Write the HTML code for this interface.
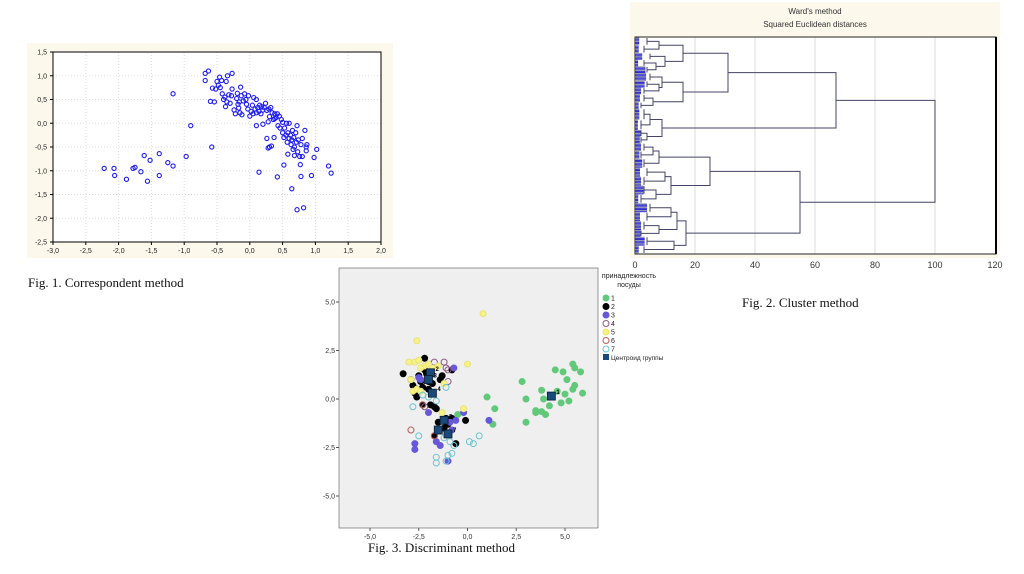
<!DOCTYPE html>
<html><head><meta charset="utf-8"><style>
body{margin:0;background:#fff;width:1024px;height:574px;overflow:hidden;position:relative;font-family:"Liberation Sans",sans-serif}
.cap{position:absolute;font-family:"Liberation Serif",serif;font-size:13px;color:#111;white-space:nowrap}
svg{position:absolute;left:0;top:0}
</style></head><body>
<svg id="s" width="1024" height="574"></svg>
<div class="cap" style="left:28px;top:275px">Fig. 1. Correspondent method</div>
<div class="cap" style="left:742px;top:295px">Fig. 2. Cluster method</div>
<div class="cap" style="left:368px;top:540px">Fig. 3. Discriminant method</div>
<script>
// ---------- Fig 1 data ----------
const c1x=[-2.22,-2.07,-2.06,-1.88,-1.78,-1.75,-1.66,-1.61,-1.56,-1.52,-1.38,-1.38,-1.25,-1.17,-1.17,-0.97,-0.9,-0.58,
-0.68,-0.68,-0.63,-0.6,-0.57,-0.54,-0.52,-0.5,-0.48,-0.46,-0.45,-0.43,-0.42,-0.4,-0.38,-0.37,-0.36,-0.35,-0.34,-0.32,-0.3,-0.28,-0.27,-0.27,-0.24,-0.22,-0.2,-0.19,-0.18,-0.17,-0.16,-0.15,-0.14,-0.13,-0.12,-0.1,-0.08,-0.06,-0.05,-0.03,-0.02,0,0.02,0.04,0.05,0.06,0.08,0.1,0.1,0.12,0.14,0.15,0.17,0.18,0.2,0.22,0.24,0.26,0.28,0.29,0.3,0.32,0.34,0.36,0.38,0.38,0.4,0.42,0.43,0.45,0.46,0.48,0.5,0.5,0.52,0.53,0.55,0.56,0.57,0.58,0.6,0.6,0.62,0.63,0.64,0.65,0.66,0.67,0.68,0.7,0.71,0.72,0.73,0.74,0.76,0.78,0.8,0.84,0.86,0.86,0.87,
0.1,0.14,0.2,0.26,0.28,0.3,0.33,0.37,0.42,0.52,0.58,0.64,0.68,0.72,0.77,0.78,0.8,0.82,0.94,0.98,1.02,1.2,1.24];
const c1y=[-0.95,-0.95,-1.1,-1.18,-0.95,-0.93,-1.02,-0.68,-1.22,-0.78,-0.64,-1.1,-0.83,-0.9,0.62,-0.7,-0.05,-0.5,
1.05,0.9,1.1,0.46,0.74,0.45,0.72,0.88,0.8,0.97,0.75,0.9,0.62,0.5,0.55,0.35,0.88,0.45,1.0,0.6,0.42,0.58,1.05,0.72,0.28,0.2,0.52,0.63,0.4,0.32,0.45,0.22,0.76,0.58,0.18,0.47,0.62,0.5,0.4,0.3,0.58,0.15,0.25,0.38,0.2,0.54,0.3,0.5,0.22,0.33,0.25,0.38,0.2,0.35,0.28,0.33,0.42,0.27,0.03,0.3,0.14,0.33,0.22,0.08,0.1,0.2,0.12,0.2,-0.05,0.15,-0.1,0.08,-0.2,0.02,-0.3,-0.1,-0.25,0,-0.4,-0.2,-0.32,0,-0.25,-0.45,-0.35,-0.15,-0.55,-0.3,-0.5,-0.2,-0.4,-0.05,-0.6,-0.35,-0.7,-0.45,-0.32,-0.15,-0.5,-0.58,-0.45,
-0.05,-1.03,-0.02,-0.32,-0.52,-0.5,-0.48,-0.3,-1.13,-0.88,-0.65,-1.38,-0.68,-1.82,-0.87,-1.12,-0.7,-1.78,-1.1,-0.72,-0.55,-0.9,-1.05];
const c1xt=["-3,0","-2,5","-2,0","-1,5","-1,0","-0,5","0,0","0,5","1,0","1,5","2,0"];
const c1yt=["1,5","1,0","0,5","0,0","-0,5","-1,0","-1,5","-2,0","-2,5"];
// ---------- Fig 2 data (tree: [height, left, right], leaf group {n,h}) ----------
function g(n,h){return {n:n,h:h};}
const tree=[100,
 [67,
  [31,[16,[8,g(7,4),g(7,3)],[10,g(6,5),[7,g(6,3),g(6,4)]]],
      [16,[9,g(7,5),[8,g(6,4),g(6,3)]],[6,g(7,3),g(6,2)]]],
  [9,[5,g(10,3),g(9,2)],[4,g(6,2),g(6,2)]]],
 [55,
  [25,[8,[6,g(7,3),g(7,2)],g(8,3)],[12,[10,g(8,4),g(8,3)],[7,g(8,3),g(8,2)]]],
  [17,[14,[12,g(8,5),g(8,4)],[8,g(8,3),g(6,2)]],[13,g(8,4),g(7,3)]]]];
const c2xt=[0,20,40,60,80,100,120];
// ---------- Fig 3 data ----------
const grpX=[
[1.0,1.4,1.3,-0.5,2.8,3.0,3.0,3.5,3.5,3.8,3.8,3.9,4.0,4.2,4.5,4.6,4.8,4.9,5.0,5.1,5.2,5.4,5.4,5.5,5.5,5.8,5.9],
[-3.3,-2.9,-2.8,-2.7,-2.6,-2.5,-2.4,-2.3,-2.2,-2.2,-2.1,-2.0,-1.9,-1.8,-1.7,-1.6,-1.4,-1.3,-1.2,-1.1,-0.8,-0.8,-0.6,-0.1,-1.7,-2.6,-2.0,-1.5,-1.0,-2.3],
[-2.7,-2.7,-2.4,-2.0,-1.6,-1.4,-0.7,-0.9,-0.6,-0.2,1.1,-1.0,-0.8,-2.5],
[-1.2,-1.1,-1.0,-1.0,-1.7,-2.2],
[0.8,-2.6,-3.0,-2.7,-2.5,-2.9,-2.8,-2.6,-2.4,-1.5,-1.8,0.0,-0.2,-1.3,-1.2,-2.2,-2.0,-2.4],
[-2.9,-1.7,-2.3],
[-2.8,-2.5,-1.6,-1.6,-1.1,-1.0,-0.8,-0.7,-1.2,-0.9,0.1,0.3,0.6,-1.1,-1.6,-2.0,-2.3]];
const grpY=[
[0.1,-0.5,-1.3,-0.8,0.9,0,-1.2,-0.6,-0.7,0.45,-0.65,0,-0.8,-0.35,1.5,0.4,-0.2,1.4,0.25,1.0,-0.1,0.5,1.8,1.6,0.7,1.4,0.3],
[1.3,1.0,0.7,0.3,0.1,1.2,0.9,-0.3,2.1,1.5,1.3,0.5,-0.3,0.8,-0.4,-0.5,1.0,1.2,-1.5,-1.0,1.5,-1.0,-2.3,-1.1,-1.9,0.5,0.9,-1.2,-1.3,0.6],
[-2.3,-2.6,1.0,-0.7,-2.2,-2.4,1.6,-1.2,-1.1,-0.7,-1.1,-3.2,-1.6,1.1],
[1.9,1.6,1.5,0.9,1.9,-0.4],
[4.4,3.0,1.9,1.9,2.0,1.0,0.4,0.5,0.4,1.7,1.6,1.8,-0.5,-0.7,0.8,1.7,1.8,1.6],
[-1.6,-1.9,-0.3],
[-0.4,-1.9,-3.0,-3.3,-3.2,-2.9,-2.8,-2.4,-2.0,-2.2,-2.2,-2.3,-1.9,0.6,-0.1,0.1,0.2]];
const cenX=[4.3,-1.9,-2.0,-1.8,-1.2,-1.5,-1.0];
const cenY=[0.15,1.35,1.0,0.3,-1.1,-1.6,-1.8];
const grpName=["1","2","3","4","5","6","7"];
const grpFill=["#62c87a","#000000","#6658d8","none","#f7f284","none","none"];
const grpStroke=["#62c87a","#000000","#6658d8","#8a5a86","#e8e27a","#b45f58","#6cc4cf"];
const c3t=[-5,-2.5,0,2.5,5];
const c3tl=["-5,0","-2,5","0,0","2,5","5,0"];

const NS="http://www.w3.org/2000/svg",S=document.getElementById('s');
function E(t,a,p){const e=document.createElementNS(NS,t);for(const k in a)e.setAttribute(k,a[k]);(p||S).appendChild(e);return e;}
function T(x,y,s,a,p){const e=E('text',Object.assign({x:x,y:y},a),p);e.textContent=s;return e;}

// ===== Fig 1 =====
const f1=E('g',{});


E('rect',{x:27,y:43,width:366,height:215,fill:'#fcf9ec'},f1);
const X1=v=>53+(v+3)*65.6, Y1=v=>52+(1.5-v)*47.5;
E('rect',{x:53,y:52,width:328,height:190,fill:'#fff'},f1);
for(let i=0;i<c1xt.length;i++){const v=-3+i*0.5,x=X1(v);
 if(i>0&&i<c1xt.length-1)E('line',{x1:x,y1:52,x2:x,y2:242,stroke:'#ddd','stroke-dasharray':'1,2'},f1);
 E('line',{x1:x,y1:242,x2:x,y2:245,stroke:'#000'},f1);
 const t=T(x,253,c1xt[i],{'font-size':7,'text-anchor':'middle',fill:'#222'},f1);
 }
for(let i=0;i<c1yt.length;i++){const v=1.5-i*0.5,y=Y1(v);
 if(i>0&&i<c1yt.length-1)E('line',{x1:53,y1:y,x2:381,y2:y,stroke:'#ddd','stroke-dasharray':'1,2'},f1);
 E('line',{x1:50,y1:y,x2:53,y2:y,stroke:'#000'},f1);
 const t=T(47,y+2.5,c1yt[i],{'font-size':7,'text-anchor':'end',fill:'#222'},f1);
 }
E('rect',{x:53,y:52,width:328,height:190,fill:'none',stroke:'#000','stroke-width':1},f1);
for(let i=0;i<c1x.length;i++){const c=E('circle',{cx:X1(c1x[i]),cy:Y1(c1y[i]),r:2.1,fill:'none',stroke:'#1d1df0','stroke-width':1.1},f1);
 }

// ===== Fig 2 =====
const f2=E('g',{});


E('rect',{x:630,y:2,width:370,height:256,fill:'#fcf9ec'},f2);
E('rect',{x:635,y:37,width:361,height:217,fill:'#fff'},f2);
const X2=v=>635+v*3;
T(815,14,"Ward's method",{'font-size':8,'text-anchor':'middle',fill:'#333'},f2);
T(815,27,"Squared Euclidean distances",{'font-size':8,'text-anchor':'middle',fill:'#333'},f2);
c2xt.forEach(v=>{const x=X2(v);
 if(v>0&&v<120)E('line',{x1:x,y1:37,x2:x,y2:254,stroke:'#ddd'},f2);
 const t=T(x,268,String(v),{'font-size':9,'text-anchor':'middle',fill:'#333'},f2);
 });
E('rect',{x:635,y:37,width:361,height:217,fill:'none',stroke:'#222'},f2);
E('line',{x1:996,y1:37,x2:996,y2:254,stroke:'#000','stroke-width':2},f2);
let cnt=0;function countL(n){return n.n!==undefined?n.n:countL(n[1])+countL(n[2]);}
const total=countL(tree),step=216/total;let cur=38;
function draw(n){
 if(n.n!==undefined){const y0=cur;
  for(let i=0;i<n.n;i++){const l=n.h*(0.35+0.65*((i*37+cnt*13)%10)/10);
   E('line',{x1:635,y1:cur,x2:X2(l),y2:cur,stroke:i%3?'#2a2acc':'#8888aa','stroke-width':1},f2);cur+=step;cnt++;}
  const y1=cur-step;E('line',{x1:X2(n.h),y1:y0,x2:X2(n.h),y2:y1,stroke:'#444466'},f2);
  return {y:(y0+y1)/2,h:n.h};}
 const a=draw(n[1]),b=draw(n[2]),x=X2(n[0]);
 E('path',{d:`M${X2(a.h)},${a.y}H${x}V${b.y}H${X2(b.h)}`,fill:'none',stroke:'#444466','stroke-width':1},f2);
 return {y:(a.y+b.y)/2,h:n[0]};}
const r=draw(tree);

// ===== Fig 3 =====
const f3=E('g',{});


const X3=v=>467.5+v*19.5, Y3=v=>399-v*19.4;
E('rect',{x:339,y:268,width:259,height:260,fill:'#efefef',stroke:'#555','stroke-width':0.6},f3);
c3t.forEach((v,i)=>{
 E('line',{x1:X3(v),y1:528,x2:X3(v),y2:531,stroke:'#555'},f3);
 T(X3(v),539,c3tl[i],{'font-size':7,'text-anchor':'middle',fill:'#333'},f3);
 E('line',{x1:336,y1:Y3(v),x2:339,y2:Y3(v),stroke:'#555'},f3);
 T(335,Y3(v)+2.5,c3tl[i],{'font-size':7,'text-anchor':'end',fill:'#333'},f3);});
for(let gI=0;gI<grpX.length;gI++){for(let i=0;i<grpX[gI].length;i++){
 const c=E('circle',{cx:X3(grpX[gI][i]),cy:Y3(grpY[gI][i]),r:3,fill:grpFill[gI],stroke:grpStroke[gI],'stroke-width':1},f3);
 }}
for(let i=0;i<cenX.length;i++){const x=X3(cenX[i]),y=Y3(cenY[i]);
 const c=E('rect',{x:x-4,y:y-4,width:8,height:8,fill:'#1a4a7a',stroke:'#0a1a30','stroke-width':0.8},f3);
 
 T(x+5,y-2,grpName[i],{'font-size':6,'font-weight':'bold',fill:'#000'},f3);}
// legend
const lg=E('g',{},f3);


T(629,278,"принадлежность",{'font-size':7,'text-anchor':'middle',fill:'#222','font-family':'"Liberation Sans","Noto Sans CJK SC",sans-serif'},lg);
T(629,287,"посуды",{'font-size':7,'text-anchor':'middle',fill:'#222','font-family':'"Liberation Sans","Noto Sans CJK SC",sans-serif'},lg);
for(let i=0;i<grpName.length;i++){const y=298+i*8.5;
 const e=E('circle',{cx:606,cy:y,r:3,fill:grpFill[i],stroke:grpStroke[i]},lg);
 
 T(611,y+2.5,grpName[i],{'font-size':7,fill:'#222'},lg);}
E('rect',{x:603,y:354,width:6,height:6,fill:'#1a4a7a'},lg);
T(611,360,"Центроид группы",{'font-size':6.5,fill:'#222','font-family':'"Liberation Sans","Noto Sans CJK SC",sans-serif'},lg);
</script>
</body></html>
